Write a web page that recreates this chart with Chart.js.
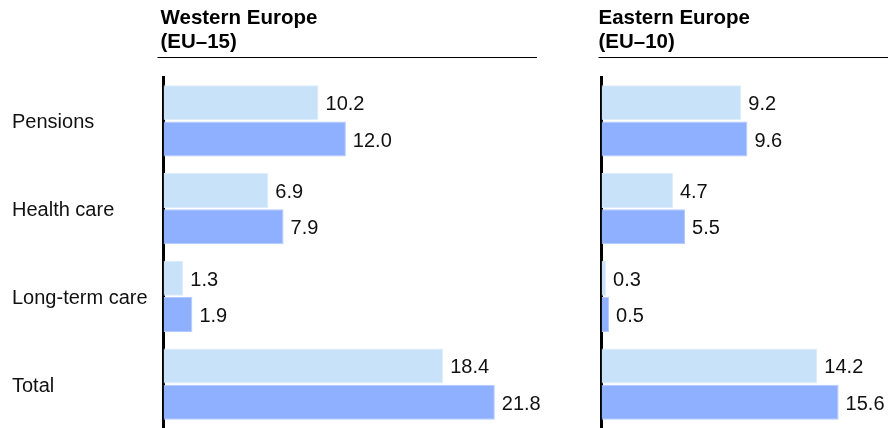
<!DOCTYPE html>
<html>
<head>
<meta charset="utf-8">
<script src="https://cdn.jsdelivr.net/npm/chart.js@4"></script>
<style>
  html, body { margin:0; padding:0; background:#fff; }
  body { width:888px; height:428px; position:relative; overflow:hidden; }
  .panel { position:absolute; top:0; height:428px; }
  #west { left:0; width:560px; }
  #east { left:588px; width:300px; }
</style>
</head>
<body>
<div class="panel" id="west"><canvas id="westChart"></canvas></div>
<div class="panel" id="east"><canvas id="eastChart"></canvas></div>
<script>
  const categories  = ['Pensions', 'Health care', 'Long-term care', 'Total'];
  const westLight   = [10.2, 6.9, 1.3, 18.4];
  const westDark    = [12.0, 7.9, 1.9, 21.8];
  const eastLight   = [9.2, 4.7, 0.3, 14.2];
  const eastDark    = [9.6, 5.5, 0.5, 15.6];
  const westTitle   = ['Western Europe', '(EU–15)'];
  const eastTitle   = ['Eastern Europe', '(EU–10)'];

  const FONT = "'Liberation Sans', Arial, Helvetica, sans-serif";
  const LIGHT = '#c8e2fa';
  const DARK  = '#8fafff';

  // value labels at the end of each bar
  const valueLabels = {
    id: 'valueLabels',
    afterDatasetsDraw(chart) {
      const ctx = chart.ctx;
      ctx.save();
      ctx.font = '20px ' + FONT;
      ctx.fillStyle = '#111';
      ctx.textAlign = 'left';
      ctx.textBaseline = 'middle';
      chart.data.datasets.forEach((ds, i) => {
        chart.getDatasetMeta(i).data.forEach((bar, j) => {
          ctx.fillText(ds.data[j].toFixed(1), bar.x + 7, bar.y + 2);
        });
      });
      ctx.restore();
    }
  };

  // panel heading + rule above the plot
  const panelTitle = {
    id: 'panelTitle',
    afterDraw(chart, args, opts) {
      const ctx = chart.ctx;
      const x = chart.chartArea.left - 3;
      ctx.save();
      ctx.font = 'bold 20.5px ' + FONT;
      ctx.fillStyle = '#000';
      ctx.textBaseline = 'alphabetic';
      opts.lines.forEach((t, i) => ctx.fillText(t, x, 24 + i * 24));
      ctx.strokeStyle = '#000';
      ctx.lineWidth = 1;
      ctx.beginPath();
      ctx.moveTo(x - opts.ruleInset, 57.5);
      ctx.lineTo(opts.ruleEnd, 57.5);
      ctx.stroke();
      ctx.restore();
    }
  };

  function makeChart(id, light, dark, title, opt) {
    return new Chart(document.getElementById(id), {
      type: 'bar',
      data: {
        labels: categories,
        datasets: [
          { label: 'Series 1', data: light, backgroundColor: LIGHT, borderColor: '#dcecfc', borderWidth: 1 },
          { label: 'Series 2', data: dark,  backgroundColor: DARK,  borderColor: '#b3c9ff', borderWidth: 1 }
        ]
      },
      options: {
        indexAxis: 'y',
        responsive: true,
        maintainAspectRatio: false,
        animation: false,
        categoryPercentage: 0.83,
        barPercentage: 0.96,
        layout: { padding: { top: 77, bottom: 0, left: opt.padLeft, right: 0 } },
        scales: {
          x: { display: false, min: 0, max: opt.max },
          y: {
            grid: { display: false },
            border: { display: true, color: '#000', width: 3 },
            ticks: {
              display: opt.showTicks,
              crossAlign: 'far',
              labelOffset: 2,
              color: '#111',
              font: { family: FONT, size: 20 }
            },
            afterFit: s => {
              s.width = opt.axisWidth;
              s.paddingTop = 0;
              s.paddingBottom = 0;
            }
          }
        },
        plugins: {
          legend: { display: false },
          tooltip: { enabled: false },
          panelTitle: { lines: title, ruleInset: opt.ruleInset, ruleEnd: opt.ruleEnd }
        }
      },
      plugins: [valueLabels, panelTitle]
    });
  }

  makeChart('westChart', westLight, westDark, westTitle,
    { padLeft: 12, axisWidth: 151.5, max: 26.09, showTicks: true, ruleInset: 3, ruleEnd: 537 });
  makeChart('eastChart', eastLight, eastDark, eastTitle,
    { padLeft: 0, axisWidth: 13.5, max: 18.85, showTicks: false, ruleInset: 0, ruleEnd: 300 });
</script>
</body>
</html>
